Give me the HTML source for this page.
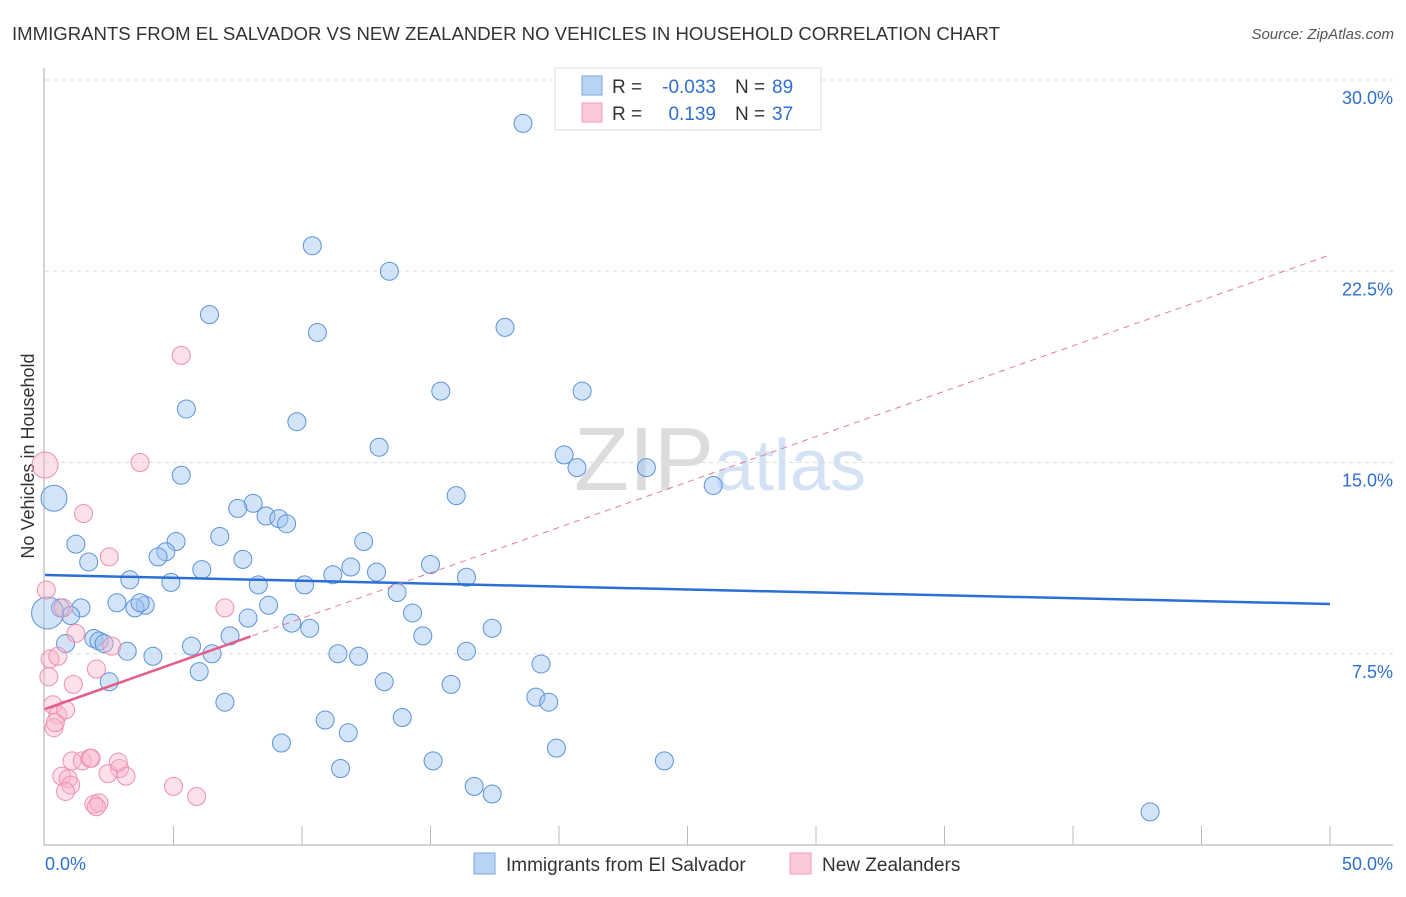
<!DOCTYPE html>
<html><head><meta charset="utf-8"><style>
body{margin:0;background:#fff;font-family:"Liberation Sans",sans-serif}
svg text{font-family:"Liberation Sans",sans-serif}
</style></head><body>
<svg id="c" width="1406" height="892" xmlns="http://www.w3.org/2000/svg">
<text x="12" y="40" font-size="18" fill="#333" textLength="988" lengthAdjust="spacingAndGlyphs">IMMIGRANTS FROM EL SALVADOR VS NEW ZEALANDER NO VEHICLES IN HOUSEHOLD CORRELATION CHART</text>
<text x="1394" y="39" font-size="15" fill="#555" text-anchor="end" font-style="italic">Source: ZipAtlas.com</text>
<text transform="translate(34,456) rotate(-90)" font-size="18" fill="#333" text-anchor="middle">No Vehicles in Household</text>
<text x="720" y="490" font-size="90" fill="#dcdcdc" text-anchor="middle" font-family="Liberation Serif">ZIP<tspan fill="#d3e2f4" font-family="Liberation Sans" font-size="72">atlas</tspan></text>
<g id="grid"></g><g id="pts"></g><g id="trend"></g>
<g>
<rect x="555" y="68" width="266" height="62" fill="#fff" stroke="#ddd"/>
<rect x="582" y="76" width="20" height="19" fill="#b9d3f5" stroke="#7aa7e0"/>
<rect x="582" y="103" width="20" height="19" fill="#fbc9d8" stroke="#f09ab5"/>
<text x="612" y="93" font-size="19" fill="#333">R =</text>
<text x="716" y="93" font-size="19" fill="#2f6fd1" text-anchor="end">-0.033</text>
<text x="735" y="93" font-size="19" fill="#333">N =</text>
<text x="772" y="93" font-size="19" fill="#2f6fd1">89</text>
<text x="612" y="120" font-size="19" fill="#333">R =</text>
<text x="716" y="120" font-size="19" fill="#2f6fd1" text-anchor="end">0.139</text>
<text x="735" y="120" font-size="19" fill="#333">N =</text>
<text x="772" y="120" font-size="19" fill="#2f6fd1">37</text>
</g>
<g>
<rect x="474" y="853" width="21" height="21" fill="#b9d3f5" stroke="#7aa7e0"/>
<text x="506" y="871" font-size="19" fill="#333">Immigrants from El Salvador</text>
<rect x="790" y="853" width="21" height="21" fill="#fbc9d8" stroke="#f09ab5"/>
<text x="822" y="871" font-size="19" fill="#333">New Zealanders</text>
</g>
</svg>
<script>
const yTicks=[7.5,15,22.5,30];
const yTickLabels=["7.5%","15.0%","22.5%","30.0%"];
const xTickLabels=["0.0%","50.0%"];
const blueX=[18.6,10.4,13.4,6.4,10.6,17.9,15.4,20.9,5.5,9.8,13.0,20.2,20.7,23.4,5.3,26.0,16.0,0.35,8.1,7.5,8.6,9.1,9.4,6.8,1.2,12.4,5.1,4.7,4.4,1.7,7.7,6.1,11.9,12.9,15.0,11.2,16.4,3.3,4.9,8.3,10.1,13.7,2.8,3.9,3.5,3.7,1.4,0.6,1.0,8.7,14.3,0.1,7.9,9.6,10.3,17.4,14.7,7.2,1.9,2.1,2.3,0.8,5.7,3.2,4.2,6.5,11.4,12.2,16.4,19.3,6.0,2.5,13.2,15.8,19.1,19.6,7.0,13.9,10.9,11.8,9.2,19.9,15.1,24.1,11.5,16.7,17.4,43.0];
const blueY=[28.3,23.5,22.5,20.8,20.1,20.3,17.8,17.8,17.1,16.6,15.6,15.3,14.8,14.8,14.5,14.1,13.7,13.6,13.4,13.2,12.9,12.8,12.6,12.1,11.8,11.9,11.9,11.5,11.3,11.1,11.2,10.8,10.9,10.7,11.0,10.6,10.5,10.4,10.3,10.2,10.2,9.9,9.5,9.4,9.3,9.5,9.3,9.3,9.0,9.4,9.1,9.1,8.9,8.7,8.5,8.5,8.2,8.2,8.1,8.0,7.9,7.9,7.8,7.6,7.4,7.5,7.5,7.4,7.6,7.1,6.8,6.4,6.4,6.3,5.8,5.6,5.6,5.0,4.9,4.4,4.0,3.8,3.3,3.3,3.0,2.3,2.0,1.3];
const blueR=[9,9,9,9,9,9,9,9,9,9,9,9,9,9,9,9,9,13,9,9,9,9,9,9,9,9,9,9,9,9,9,9,9,9,9,9,9,9,9,9,9,9,9,9,9,9,9,9,9,9,9,16,9,9,9,9,9,9,9,9,9,9,9,9,9,9,9,9,9,9,9,9,9,9,9,9,9,9,9,9,9,9,9,9,9,9,9,9];
const pinkX=[5.3,3.7,0.0,1.5,2.5,0.05,7.0,0.7,1.2,2.6,0.2,0.5,2.0,1.1,0.15,0.3,0.5,0.8,0.35,0.4,1.05,1.45,1.75,2.9,0.65,2.45,3.15,0.9,1.0,0.8,5.0,5.9,1.9,2.1,2.0,1.8,2.85];
const pinkY=[19.2,15.0,14.9,13.0,11.3,10.0,9.3,9.3,8.3,7.8,7.3,7.4,6.9,6.3,6.6,5.5,5.1,5.3,4.6,4.8,3.3,3.3,3.4,3.0,2.7,2.8,2.7,2.6,2.35,2.1,2.3,1.9,1.6,1.65,1.5,3.4,3.25];
const pinkR=[9,9,13,9,9,9,9,9,9,9,9,9,9,9,9,9,9,9,9,9,9,9,9,9,9,9,9,9,9,9,9,9,9,9,9,9,9];
const blueTrend=[10.59,9.45];
const pinkTrend=[5.33,23.14];
const NS="http://www.w3.org/2000/svg";
const X=v=>45+v*25.7, Y=v=>845-v*25.5;
function mk(t,a,p){const e=document.createElementNS(NS,t);for(const k in a)e.setAttribute(k,a[k]);p.appendChild(e);return e;}
const g=document.getElementById('grid');
yTicks.forEach((t,i)=>{
 const l=mk('line',{x1:45,x2:1393,y1:Y(t),y2:Y(t),stroke:'#ddd','stroke-dasharray':'4,4'},g);
 
 
 const tx=mk('text',{x:1393,y:Y(t)+24,'font-size':18,fill:'#2f6fd1','text-anchor':'end'},g);
 tx.textContent=yTickLabels[i];
 
 
});
const ax=mk('line',{x1:44,x2:1393,y1:845,y2:845,stroke:'#aaa'},g);


const ay=mk('line',{x1:44,x2:44,y1:68,y2:845,stroke:'#aaa'},g);


for(let i=1;i<=10;i++){const t=mk('line',{x1:X(i*5),x2:X(i*5),y1:826,y2:845,stroke:'#bbb'},g);
 
 }
[[0,'start',45],[50,'end',1393]].forEach((d,i)=>{const t=mk('text',{x:d[2],y:870,'font-size':18,fill:'#2f6fd1','text-anchor':d[1]},g);t.textContent=xTickLabels[i];
 
 });
const p=document.getElementById('pts');
blueX.forEach((x,i)=>{const c=mk('circle',{cx:X(x),cy:Y(blueY[i]),r:blueR[i],fill:'rgba(160,196,240,0.45)',stroke:'#5b93db','stroke-width':1},p);
 
 });
pinkX.forEach((x,i)=>{const c=mk('circle',{cx:X(x),cy:Y(pinkY[i]),r:pinkR[i],fill:'rgba(248,180,200,0.4)',stroke:'#ee8fae','stroke-width':1},p);
 
 });
const tr=document.getElementById('trend');
const b=mk('line',{x1:X(0),y1:Y(blueTrend[0]),x2:X(50),y2:Y(blueTrend[1]),stroke:'#2a6fd6','stroke-width':2.5},tr);


const pd=mk('line',{x1:X(0),y1:Y(pinkTrend[0]),x2:X(50),y2:Y(pinkTrend[1]),stroke:'#e8799c','stroke-width':1,'stroke-dasharray':'6,5'},tr);


const xe=8;
const ps=mk('line',{x1:X(0),y1:Y(pinkTrend[0]),x2:X(xe),y2:Y(pinkTrend[0]+(pinkTrend[1]-pinkTrend[0])*xe/50),stroke:'#e35c8a','stroke-width':2.5},tr);


</script>
</body></html>
